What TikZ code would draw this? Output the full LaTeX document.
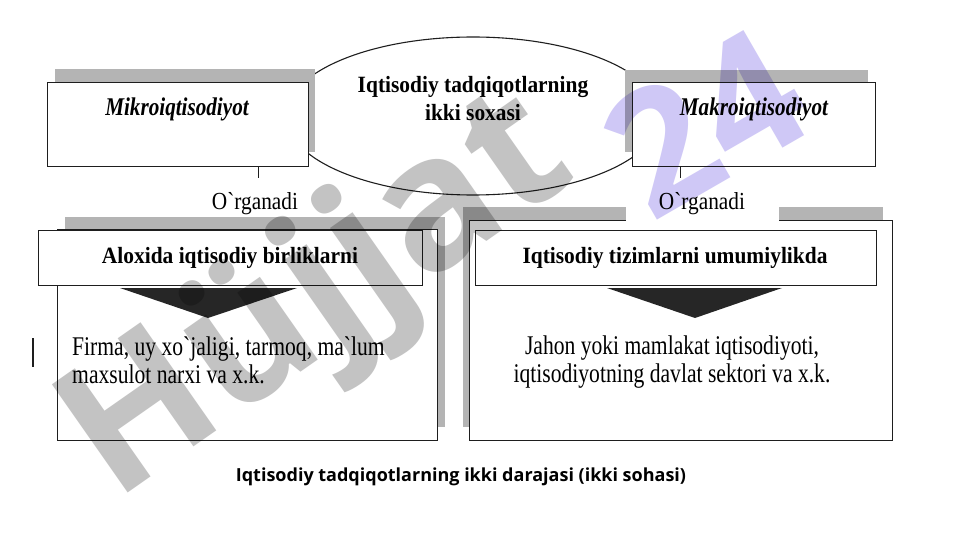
\documentclass[tikz,border=0pt]{standalone}
\usepackage{fontspec}
\newfontfamily\serbody{Liberation Serif}[FakeStretch=0.8]
\newfontfamily\serorg{Liberation Serif}[FakeStretch=0.87]
\newfontfamily\serhead{Liberation Serif}[FakeStretch=0.92]
\newfontfamily\seritl{Liberation Serif}[FakeStretch=0.83]
\newfontfamily\capfont{Open Sans}
\newfontfamily\wmfont{Open Sans}
\usetikzlibrary{shapes.geometric}
\definecolor{shadowgray}{RGB}{180,180,180}
\definecolor{wmgray}{RGB}{195,195,195}
\definecolor{wmlav}{RGB}{207,200,246}
\definecolor{linecol}{RGB}{30,30,30}
\definecolor{tricol}{RGB}{38,38,38}
\tikzset{
  shadowbox/.style={fill=shadowgray, draw=none},
  boxnode/.style={draw=linecol, line width=1.1pt, fill=white, anchor=north west, inner sep=0pt},
  bodytext/.style={font=\serbody\fontsize{27}{29}\selectfont, anchor=base, inner sep=0pt},
  orgtext/.style={font=\serorg\fontsize{24.5}{29}\selectfont, anchor=base, inner sep=0pt},
  boldtext/.style={font=\serhead\bfseries\fontsize{23.3}{29}\selectfont, anchor=base, inner sep=0pt},
  bitext/.style={font=\seritl\bfseries\itshape\fontsize{25.5}{29}\selectfont, anchor=base, inner sep=0pt},
  tickline/.style={draw=linecol, line width=1pt},
  tri/.style={fill=tricol},
}
\begin{document}
\begin{tikzpicture}[x=1pt,y=-1pt]
\useasboundingbox (0,0) rectangle (961,540);
\fill[white] (0,0) rectangle (961,540);

% central ellipse
\node[ellipse, draw=linecol, line width=1.1pt, fill=white, minimum width=374pt, minimum height=158pt, inner sep=0pt] (ell) at (473,116) {};

% top shadows and boxes
\fill[shadowbox] (55,69) rectangle (315,152);
\fill[shadowbox] (625,70) rectangle (868,152);
\node[boxnode, minimum width=261pt, minimum height=84pt] (mikro) at (47,82) {};
\node[boxnode, minimum width=243pt, minimum height=84pt] (makro) at (632,82) {};

\node[bitext] (mikrot) at (177,116) {Mikroiqtisodiyot};
\node[bitext] (makrot) at (754,116) {Makroiqtisodiyot};
\node[boldtext] (ellt1) at (473,93) {Iqtisodiy tadqiqotlarning};
\node[boldtext] (ellt2) at (473,121) {ikki soxasi};

% ticks
\coordinate (tl) at (258,178);
\coordinate (tr) at (680,178);
\draw[tickline] (tl |- mikro.south) -- (tl);
\draw[tickline] (tr |- makro.south) -- (tr);

% lower shadows and boxes
\fill[shadowbox] (65,217) rectangle (445,427);
\fill[shadowbox] (463,207) rectangle (883,427);
\node[boxnode, minimum width=380pt, minimum height=211pt] (lbox) at (57,229) {};
\node[boxnode, minimum width=423pt, minimum height=220pt] (rbox) at (469,220) {};
\node[boxnode, minimum width=384pt, minimum height=55pt] (lhead) at (38,230) {};
\node[boxnode, minimum width=401pt, minimum height=55pt] (rhead) at (475,230) {};

% O`rganadi labels
\node[orgtext] (lorg) at (255,210) {O`rganadi};
\node[orgtext, fill=white, text height=17pt, text depth=12pt, minimum width=153pt] (rorg) at (702,210) {O`rganadi};

% header texts
\node[boldtext] (lht) at (230,263) {Aloxida iqtisodiy birliklarni};
\node[boldtext] (rht) at (675,263) {Iqtisodiy tizimlarni umumiylikda};

% triangles
\fill[tri] (120,288) -- (297,288) -- (208,318) -- cycle;
\fill[tri] (607,288) -- (782,288) -- (695,318) -- cycle;

% body texts
\node[bodytext, anchor=base west] (lb1) at (72,355) {Firma, uy xo`jaligi, tarmoq, ma`lum};
\node[bodytext, anchor=base west] (lb2) at (72,383) {maxsulot narxi va x.k.};
\node[bodytext] (rb1) at (672,354) {Jahon yoki mamlakat iqtisodiyoti,};
\node[bodytext] (rb2) at (672,382) {iqtisodiyotning davlat sektori va x.k.};

% stray mark
\draw[linecol, line width=1.2pt] (33,338) -- (33,367);

% caption
\node[font=\capfont\bfseries\fontsize{18}{20}\selectfont, anchor=base, inner sep=0pt] (cap) at (461,481) {Iqtisodiy tadqiqotlarning ikki darajasi (ikki sohasi)};

% watermark
\begin{scope}[blend mode=multiply]
\node[font=\wmfont\bfseries\fontsize{185}{185}\selectfont, text=wmgray, rotate=35, inner sep=0pt] (wm1) at (320,300) {Hüjjat};
\node[font=\wmfont\bfseries\fontsize{170}{170}\selectfont, text=wmlav, rotate=30, inner sep=0pt] (wm2) at (705,122) {24};
\end{scope}
\end{tikzpicture}
\end{document}
